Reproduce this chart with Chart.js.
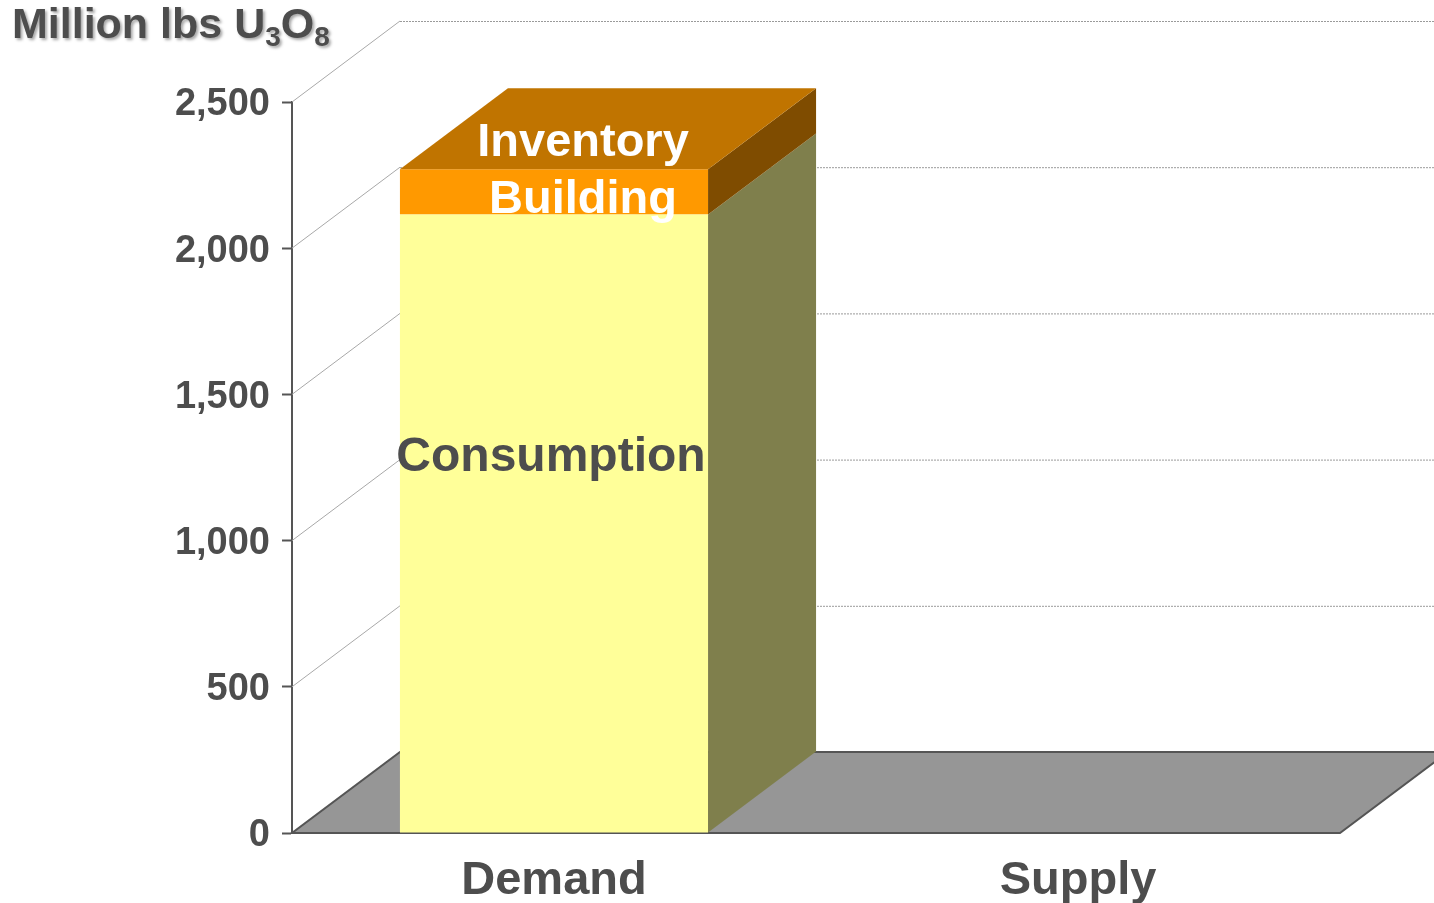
<!DOCTYPE html>
<html>
<head>
<meta charset="utf-8">
<script src="https://cdn.jsdelivr.net/npm/chart.js@4/dist/chart.umd.min.js"></script>
<style>
html,body{margin:0;padding:0;background:#fff;}
canvas{display:block;}
</style>
</head>
<body>
<canvas id="c" width="1434" height="903"></canvas>
<script>
// ---- data ----
const categories = ['Demand', 'Supply'];
const consumption = [2115, null];
const inventoryBuilding = [155, null];
const yTickValues = [0, 500, 1000, 1500, 2000, 2500];
const seriesNames = ['Consumption', 'Inventory Building'];

// ---- style ----
const DX = 108, DY = -81;
const TXT = '#4d4d4d';
const FONT = '"Liberation Sans", Arial, sans-serif';

const threeD = {
  id: 'threeD',
  beforeDatasetsDraw(chart) {
    const ctx = chart.ctx, ca = chart.chartArea, y = chart.scales.y;
    ctx.save();
    const b = y.getPixelForValue(0);
    ctx.beginPath();
    ctx.moveTo(ca.left, b);
    ctx.lineTo(ca.right, b);
    ctx.lineTo(ca.right + DX, b + DY);
    ctx.lineTo(ca.left + DX, b + DY);
    ctx.closePath();
    ctx.fillStyle = '#969696';
    ctx.fill();
    ctx.strokeStyle = '#555';
    ctx.lineWidth = 2;
    ctx.stroke();
    yTickValues.forEach(v => {
      if (v === 0) return;
      const py = y.getPixelForValue(v);
      ctx.beginPath();
      ctx.strokeStyle = '#a8a8a8';
      ctx.lineWidth = 1;
      ctx.setLineDash([]);
      ctx.moveTo(ca.left, py);
      ctx.lineTo(ca.left + DX, py + DY);
      ctx.stroke();
      ctx.beginPath();
      ctx.setLineDash([2, 1]);
      ctx.strokeStyle = '#9a9a9a';
      ctx.moveTo(ca.left + DX, py + DY + 0.5);
      ctx.lineTo(chart.width, py + DY + 0.5);
      ctx.stroke();
    });
    ctx.restore();
  },
  afterDatasetsDraw(chart) {
    const ctx = chart.ctx, ys = chart.scales.y;
    ctx.save();
    const n = chart.data.datasets.length;
    chart.data.datasets.forEach((ds, di) => {
      const meta = chart.getDatasetMeta(di);
      meta.data.forEach((el, i) => {
        if (ds.data[i] == null) return;
        const p = el.getProps(['x', 'y', 'base', 'width'], true);
        const r = p.x + p.width / 2, l = p.x - p.width / 2;
        ctx.beginPath();
        ctx.moveTo(r, p.y);
        ctx.lineTo(r + DX, p.y + DY);
        ctx.lineTo(r + DX, p.base + DY);
        ctx.lineTo(r, p.base);
        ctx.closePath();
        ctx.fillStyle = ds.sideColor;
        ctx.fill();
        if (di === n - 1) {
          ctx.beginPath();
          ctx.moveTo(l, p.y);
          ctx.lineTo(r, p.y);
          ctx.lineTo(r + DX, p.y + DY);
          ctx.lineTo(l + DX, p.y + DY);
          ctx.closePath();
          ctx.fillStyle = ds.topColor;
          ctx.fill();
        }
      });
    });
    const bar0 = chart.getDatasetMeta(0).data[0].getProps(['x'], true);
    ctx.textAlign = 'center';
    ctx.textBaseline = 'alphabetic';
    ctx.font = 'bold 48px ' + FONT;
    ctx.fillStyle = TXT;
    ctx.fillText('Consumption', bar0.x - 3, ys.getPixelForValue(1238));
    ctx.font = 'bold 47px ' + FONT;
    ctx.fillStyle = '#ffffff';
    ctx.fillText('Inventory', bar0.x + 29, ys.getPixelForValue(2315));
    ctx.fillText('Building', bar0.x + 29, ys.getPixelForValue(2120));
    ctx.restore();
  },
  afterDraw(chart) {
    const ctx = chart.ctx;
    ctx.save();
    ctx.shadowColor = 'rgba(0,0,0,0.35)';
    ctx.shadowOffsetX = 2;
    ctx.shadowOffsetY = 2;
    ctx.shadowBlur = 3;
    ctx.fillStyle = TXT;
    ctx.textBaseline = 'alphabetic';
    ctx.textAlign = 'left';
    let x = 12;
    const base = 38;
    const big = 'bold 43px ' + FONT, small = 'bold 28px ' + FONT;
    const parts = [['Million lbs U', big, 0], ['3', small, 8], ['O', big, 0], ['8', small, 8]];
    parts.forEach(([t, f, off]) => {
      ctx.font = f;
      ctx.fillText(t, x, base + off);
      x += ctx.measureText(t).width;
    });
    ctx.restore();
  }
};

new Chart(document.getElementById('c'), {
  type: 'bar',
  data: {
    labels: categories,
    datasets: [
      { label: seriesNames[0], data: consumption, backgroundColor: '#FFFF99', sideColor: '#7F7F4C', topColor: '#C0C07A' },
      { label: seriesNames[1], data: inventoryBuilding, backgroundColor: '#FF9900', sideColor: '#7F4C00', topColor: '#C07400' }
    ]
  },
  options: {
    responsive: false,
    animation: false,
    devicePixelRatio: 1,
    layout: { padding: { top: 102, right: 94, left: 0, bottom: 0 } },
    datasets: { bar: { categoryPercentage: 1, barPercentage: 0.588, borderWidth: 0 } },
    plugins: { legend: { display: false }, tooltip: { enabled: false }, title: { display: false } },
    scales: {
      x: {
        stacked: true,
        grid: { display: false, drawTicks: false },
        border: { display: false },
        ticks: { color: TXT, font: { family: FONT, size: 47, weight: 'bold' }, padding: 20 },
        afterFit(s) { s.height = 70; }
      },
      y: {
        stacked: true,
        min: 0, max: 2500,
        afterBuildTicks(s) { s.ticks = yTickValues.map(v => ({ value: v })); },
        grid: { drawOnChartArea: false, drawTicks: true, tickLength: 10, tickColor: '#555', tickWidth: 2 },
        border: { display: true, color: '#555', width: 2 },
        ticks: {
          color: TXT, padding: 12, labelOffset: 3,
          font: { family: FONT, size: 38, weight: 'bold' },
          callback: v => v.toLocaleString('en-US')
        },
        afterFit(s) { s.width = 292; }
      }
    }
  },
  plugins: [threeD]
});
</script>
</body>
</html>
